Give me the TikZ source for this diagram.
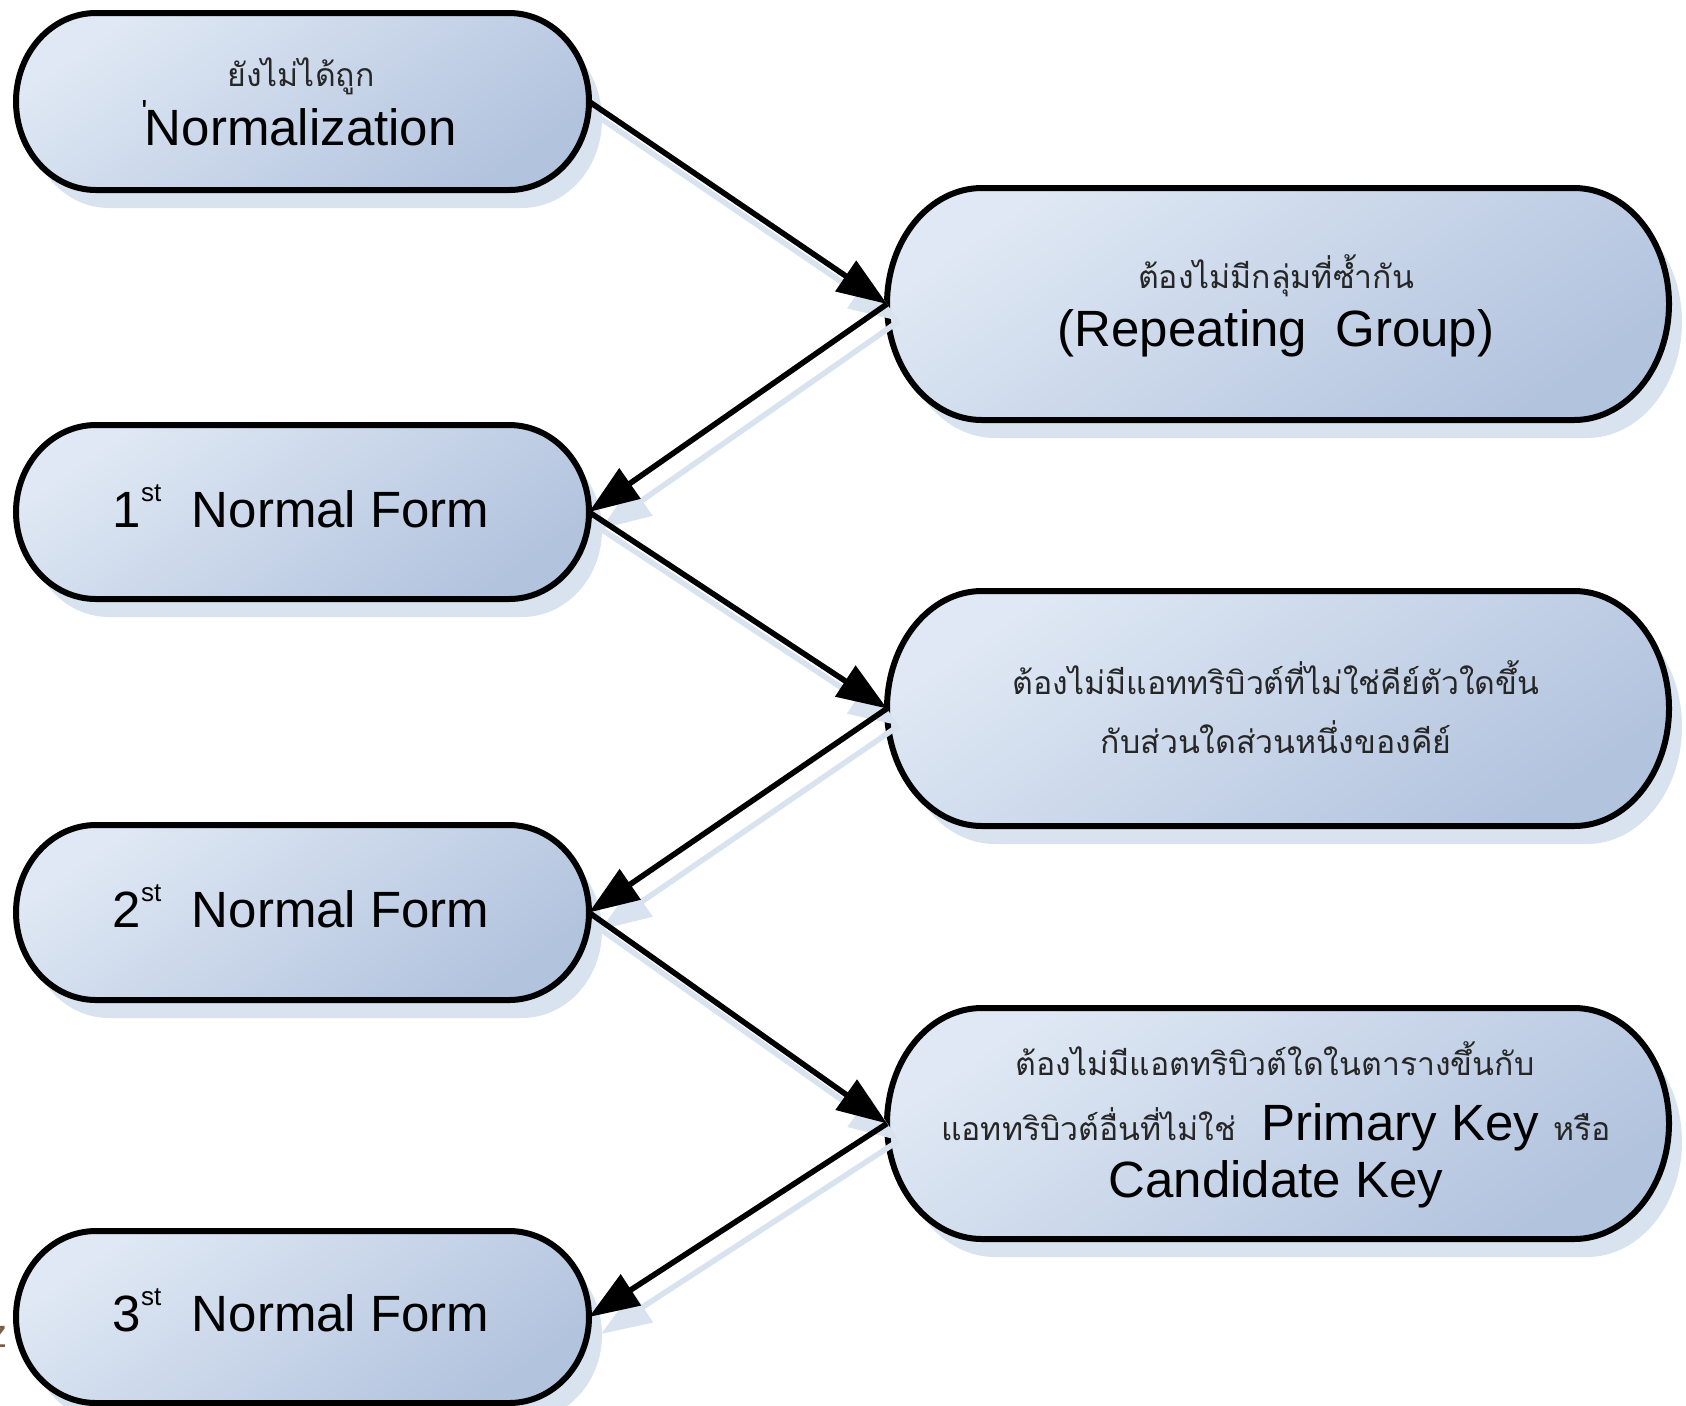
\documentclass[tikz,border=0pt]{standalone}
\usepackage{fontspec}
\setmainfont{Liberation Sans}
\newfontfamily\thaifont[Script=Thai]{Loma}
\usetikzlibrary{arrows.meta}

\definecolor{boxlight}{HTML}{DFE8F4}
\definecolor{boxdark}{HTML}{B2C3DE}
\definecolor{shadowblue}{HTML}{D9E3F0}
\definecolor{strayink}{HTML}{7A5E4C}

\newcommand\thaitext{\thaifont\fontsize{16pt}{18pt}\selectfont}
\newcommand\ordsuffix{\raisebox{0.5em}{\fontsize{13pt}{13pt}\selectfont st}}

% capsule box: #1 name, #2 centre x, #3 centre y (downwards), #4 width, #5 height, #6 end radius
\newcommand\capsule[6]{%
  \begin{scope}[shift={(13,-18)}]
    \fill[boxshadow] (#2-#4/2+#6,-#3+#5/2) -- (#2+#4/2-#6,-#3+#5/2)
      arc[start angle=90,end angle=-90,x radius=#6,y radius=#5/2]
      -- (#2-#4/2+#6,-#3-#5/2)
      arc[start angle=270,end angle=90,x radius=#6,y radius=#5/2] -- cycle;
  \end{scope}
  \draw[boxbody] (#2-#4/2+#6,-#3+#5/2) -- (#2+#4/2-#6,-#3+#5/2)
    arc[start angle=90,end angle=-90,x radius=#6,y radius=#5/2]
    -- (#2-#4/2+#6,-#3-#5/2)
    arc[start angle=270,end angle=90,x radius=#6,y radius=#5/2] -- cycle;
  \node[boxframe, minimum width=#4*0.5pt, minimum height=#5*0.5pt] (#1) at (#2,-#3) {};
}

\begin{document}
\begin{tikzpicture}[x=0.5pt, y=0.5pt,
  boxshadow/.style={fill=shadowblue},
  boxbody/.style={draw=black, line width=3pt, top color=boxlight, bottom color=boxdark, shading angle=35},
  boxframe/.style={rectangle, draw=none, inner sep=0pt, outer sep=0pt},
  connector/.style={line width=2.8pt, -{Triangle[length=25pt,width=18pt]}},
  connshadow/.style={connector, draw=shadowblue},
  title/.style={font=\fontsize{25.5pt}{28pt}\selectfont, anchor=base, inner sep=0pt},
  thailine/.style={font=\thaitext, anchor=base, inner sep=0pt, text=black!85}]

\useasboundingbox (0,0) rectangle (1686,-1405);

% boxes
\capsule{norm}{302.5}{101.5}{573}{177}{80}
\capsule{rule1}{1278}{304}{782}{232}{95}
\capsule{nf1}{302.5}{512}{573}{174}{80}
\capsule{rule2}{1278}{708.5}{782}{235}{95}
\capsule{nf2}{302.5}{912.5}{573}{175}{80}
\capsule{rule3}{1278}{1123.5}{782}{231}{95}
\capsule{nf3}{302.5}{1317}{573}{172}{80}

% connector shadows
\foreach \a/\b/\c/\d in {norm/east/rule1/west, rule1/west/nf1/east, nf1/east/rule2/west,
                         rule2/west/nf2/east, nf2/east/rule3/west, rule3/west/nf3/east}
  \draw[connshadow] ([shift={(12,-17)}]\a.\b) -- ([shift={(12,-17)}]\c.\d);

% connectors
\draw[connector] (norm.east) -- (rule1.west);
\draw[connector] (rule1.west) -- (nf1.east);
\draw[connector] (nf1.east) -- (rule2.west);
\draw[connector] (rule2.west) -- (nf2.east);
\draw[connector] (nf2.east) -- (rule3.west);
\draw[connector] (rule3.west) -- (nf3.east);

% texts
\node[thailine] (normth) at (301,-86) {ยังไม่ได้ถูก};
\node[title] (normen) at (299,-145) {\raisebox{0.45em}{\fontsize{16pt}{16pt}\selectfont\textquotesingle}\hspace{-0.05em}Normalization};

\node[thailine] (rule1th) at (1276,-288) {ต้องไม่มีกลุ่มที่ซ้ำกัน};
\node[title] (rule1en) at (1276,-346) {(Repeating\ \ Group)};

\node[title] (nf1t) at (301,-527) {1\ordsuffix\hspace{0.6em}Normal Form};

\node[thailine] (rule2a) at (1276,-694) {ต้องไม่มีแอททริบิวต์ที่ไม่ใช่คีย์ตัวใดขึ้น};
\node[thailine] (rule2b) at (1276,-753) {กับส่วนใดส่วนหนึ่งของคีย์};

\node[title] (nf2t) at (301,-927) {2\ordsuffix\hspace{0.6em}Normal Form};

\node[thailine] (rule3a) at (1275,-1075) {ต้องไม่มีแอตทริบิวต์ใดในตารางขึ้นกับ};
\node[title] (rule3b) at (1276,-1140) {{\thaitext\color{black!85}แอททริบิวต์อื่นที่ไม่ใช่}\hspace{0.5em}Primary Key {\thaitext\color{black!85}หรือ}};
\node[title] (rule3c) at (1276,-1197) {Candidate Key};

\node[title] (nf3t) at (301,-1331) {3\ordsuffix\hspace{0.6em}Normal Form};

% partial glyph at the left edge
\node[font=\fontsize{20pt}{20pt}\selectfont, text=strayink, anchor=base, inner sep=0pt] (stray) at (-2,-1347) {z};
\end{tikzpicture}
\end{document}
